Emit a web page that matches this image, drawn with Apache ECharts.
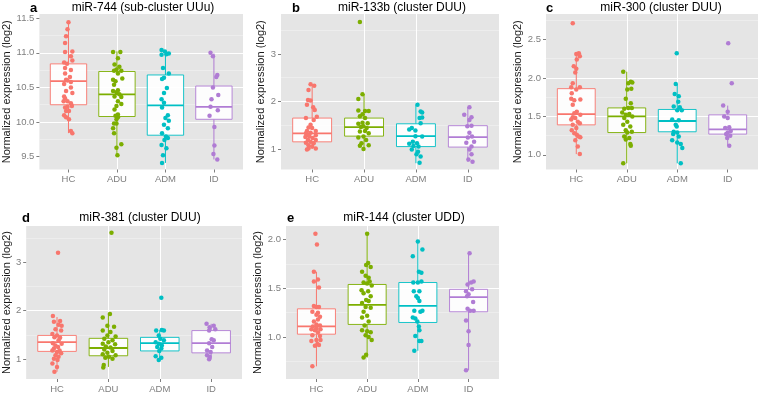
<!DOCTYPE html>
<html>
<head>
<meta charset="utf-8">
<script src="https://cdn.jsdelivr.net/npm/echarts@6/dist/echarts.min.js"></script>
<style>
html,body{margin:0;padding:0;background:#fff}
#chart{width:760px;height:394px}
</style>
</head>
<body>
<div id="chart"></div>
<script>
var groups = ['HC', 'ADU', 'ADM', 'ID'];
var groupColors = ['#F8766D', '#7CAE00', '#00BFC4', '#B07CD4'];
var yName = 'Normalized expression (log2)';

var titles = [
  'miR-744 (sub-cluster UUu)',
  'miR-133b (cluster DUU)',
  'miR-300 (cluster DUU)',
  'miR-381 (cluster DUU)',
  'miR-144 (cluster UDD)'
];
var letters = ['a', 'b', 'c', 'd', 'e'];

// y tick values and labels
var yTicksA = [9.5, 10, 10.5, 11, 11.5];
var yLabelsA = ['9.5', '10.0', '10.5', '11.0', '11.5'];
var yTicksB = [1, 2, 3];
var yLabelsB = ['1', '2', '3'];
var yTicksC = [1, 1.5, 2, 2.5];
var yLabelsC = ['1.0', '1.5', '2.0', '2.5'];
var yTicksD = [1, 2, 3];
var yLabelsD = ['1', '2', '3'];
var yTicksE = [1, 1.5, 2];
var yLabelsE = ['1.0', '1.5', '2.0'];

// box stats per group: [whisker low, Q1, median, Q3, whisker high]
var boxA = [[9.84, 10.25, 10.59, 10.84, 11.45], [9.51, 10.08, 10.40, 10.73, 11.02], [9.41, 9.81, 10.24, 10.68, 11.04], [9.46, 10.04, 10.22, 10.52, 10.99]];
var boxB = [[1.00, 1.15, 1.33, 1.65, 2.36], [1.00, 1.27, 1.46, 1.65, 2.15], [0.70, 1.05, 1.27, 1.53, 1.93], [0.73, 1.04, 1.25, 1.49, 1.88]];
var boxC = [[1.01, 1.39, 1.53, 1.86, 2.32], [0.89, 1.29, 1.50, 1.61, 2.08], [0.89, 1.30, 1.44, 1.59, 1.92], [1.12, 1.27, 1.33, 1.52, 1.64]];
var boxD = [[0.74, 1.16, 1.35, 1.49, 1.87], [0.84, 1.07, 1.23, 1.43, 1.94], [0.97, 1.17, 1.33, 1.45, 1.60], [1.00, 1.13, 1.33, 1.59, 1.73]];
var boxE = [[0.70, 1.03, 1.11, 1.29, 1.67], [0.79, 1.13, 1.33, 1.54, 2.06], [0.86, 1.15, 1.32, 1.56, 1.98], [0.66, 1.26, 1.41, 1.49, 1.86]];

// jittered points per group: [x offset from group, value]
var pointsA = [
  [[0,11.44],[-0.02,11.34],[-0.05,11.24],[-0.07,11.14],[-0.07,11.01],[0.08,11.02],[0.05,10.95],[0.08,10.89],[-0.09,10.86],[-0.03,10.84],[-0.07,10.78],[0.05,10.75],[-0.07,10.70],[0.03,10.65],[-0.05,10.61],[-0.02,10.60],[0.05,10.58],[-0.09,10.55],[0.05,10.50],[-0.05,10.45],[0.08,10.42],[-0.09,10.37],[-0.07,10.34],[-0.10,10.30],[-0.02,10.30],[0.05,10.27],[0.07,10.23],[-0.02,10.22],[-0.07,10.21],[-0.05,10.16],[0.01,10.16],[-0.09,10.10],[-0.05,10.07],[0.01,10.04],[0.05,9.87],[0.08,9.84]],
  [[-0.08,11.01],[0.07,11.01],[0.02,10.92],[-0.05,10.83],[0.05,10.80],[-0.01,10.76],[-0.06,10.74],[0.09,10.74],[0.02,10.70],[-0.08,10.61],[-0.03,10.59],[0.11,10.63],[-0.06,10.54],[0.02,10.46],[-0.08,10.45],[-0.01,10.43],[0.05,10.40],[-0.05,10.37],[0.09,10.36],[0.02,10.30],[0.09,10.26],[-0.01,10.23],[-0.05,10.18],[0.02,10.11],[-0.03,10.09],[0.02,10.07],[-0.01,10.04],[-0.06,9.98],[-0.01,9.98],[-0.08,9.91],[-0.06,9.84],[-0.01,9.63],[0.09,9.68],[0.01,9.52]],
  [[-0.08,11.04],[-0.01,11.02],[0.02,10.98],[0.07,10.99],[-0.08,10.97],[-0.05,10.78],[0.07,10.70],[-0.03,10.64],[-0.07,10.62],[0.03,10.49],[-0.03,10.42],[-0.08,10.33],[-0.03,10.28],[-0.07,10.21],[0.05,10.10],[0,10.06],[0.07,10.02],[-0.03,9.96],[0.05,9.91],[-0.07,9.84],[0.01,9.79],[0.05,9.77],[-0.02,9.74],[-0.08,9.67],[0.02,9.62],[-0.05,9.52],[-0.07,9.41]],
  [[-0.07,11.00],[-0.02,10.95],[0.07,10.68],[0.05,10.65],[-0.02,10.50],[0.09,10.39],[-0.05,10.33],[-0.07,10.22],[0.08,10.17],[-0.09,10.09],[0.01,9.93],[0.01,9.66],[-0.01,9.54],[0.07,9.46]]
];
var pointsB = [
  [[-0.03,2.36],[-0.07,2.24],[0.04,2.33],[-0.08,2.03],[-0.03,2.02],[-0.10,1.93],[0.02,1.88],[0.05,1.82],[0.09,1.68],[-0.12,1.65],[0.03,1.61],[-0.03,1.51],[-0.07,1.45],[0,1.44],[-0.10,1.38],[0.07,1.38],[-0.03,1.34],[-0.12,1.33],[-0.08,1.29],[0.07,1.29],[-0.05,1.26],[-0.13,1.25],[0.01,1.23],[-0.08,1.19],[0.07,1.19],[-0.03,1.15],[-0.12,1.13],[0.03,1.12],[-0.07,1.08],[0,1.05],[-0.07,1.01],[0.07,1.01],[-0.10,0.99]],
  [[-0.08,3.67],[-0.03,2.15],[-0.11,2.05],[0.02,1.80],[0.09,1.80],[-0.11,1.81],[-0.03,1.73],[-0.08,1.69],[0.02,1.65],[-0.03,1.55],[0.07,1.54],[-0.11,1.53],[-0.01,1.48],[-0.06,1.46],[0.05,1.44],[0.02,1.38],[-0.08,1.37],[0.09,1.33],[-0.01,1.26],[-0.11,1.24],[0.04,1.19],[-0.05,1.12],[0.09,1.08],[-0.08,1.07],[-0.01,1.00]],
  [[0.03,1.93],[0.09,1.79],[0.12,1.77],[0.07,1.65],[0.12,1.66],[0.09,1.54],[-0.08,1.44],[-0.13,1.41],[-0.01,1.39],[0.12,1.26],[-0.01,1.27],[-0.06,1.15],[-0.13,1.11],[0.02,1.12],[-0.05,1.06],[0.05,1.05],[-0.08,0.99],[0.04,0.94],[0.01,0.89],[0.09,0.84],[0.07,0.71]],
  [[0.03,1.88],[-0.07,1.72],[0.07,1.67],[0.03,1.61],[-0.01,1.48],[0.07,1.49],[0.03,1.34],[0.08,1.26],[0,1.24],[-0.03,1.13],[0.12,1.15],[0.07,1.05],[0.03,0.99],[0.07,0.89],[0.01,0.78],[0.09,0.73]]
];
var pointsC = [
  [[-0.07,2.71],[0.05,2.32],[0,2.31],[0.07,2.28],[0.01,2.24],[-0.05,2.15],[0,2.12],[-0.02,2.07],[-0.07,1.93],[-0.10,1.88],[0.07,1.88],[0,1.85],[-0.09,1.80],[-0.10,1.73],[0.08,1.72],[-0.04,1.71],[-0.07,1.65],[0.01,1.56],[-0.04,1.54],[0.08,1.52],[-0.07,1.49],[-0.10,1.46],[-0.02,1.48],[0.03,1.43],[0.07,1.41],[-0.07,1.39],[0,1.35],[-0.09,1.32],[-0.04,1.28],[0.01,1.26],[0.08,1.23],[-0.02,1.19],[0.05,1.24],[0.03,1.11],[0.07,1.01]],
  [[-0.07,2.08],[0.08,1.95],[0.03,1.93],[0.11,1.94],[0.01,1.85],[0.09,1.86],[-0.02,1.73],[0.08,1.67],[0.03,1.61],[-0.05,1.60],[0.10,1.61],[-0.09,1.55],[-0.02,1.52],[0.05,1.53],[0.11,1.50],[-0.05,1.48],[0.01,1.43],[-0.07,1.39],[0.07,1.37],[-0.02,1.32],[0.10,1.30],[0.01,1.29],[-0.05,1.24],[0.05,1.22],[-0.02,1.20],[0.07,1.14],[0.08,1.12],[-0.07,0.89]],
  [[-0.01,2.32],[-0.03,1.92],[-0.05,1.79],[0.03,1.76],[0.02,1.69],[-0.07,1.63],[0.05,1.62],[0,1.58],[0.09,1.58],[-0.10,1.46],[0.03,1.45],[-0.03,1.39],[-0.01,1.37],[-0.07,1.30],[0,1.29],[-0.08,1.27],[0.03,1.24],[-0.10,1.19],[0,1.16],[0.07,1.14],[0.10,1.09],[0.07,0.89]],
  [[0.01,2.45],[0.08,1.93],[-0.09,1.64],[0,1.56],[-0.07,1.50],[0,1.48],[0.03,1.36],[-0.05,1.35],[0.06,1.31],[0,1.29],[-0.03,1.27],[0.05,1.25],[-0.01,1.22],[0.03,1.12]]
];
var pointsD = [
  [[0.02,3.20],[-0.08,1.89],[0.06,1.79],[-0.06,1.77],[0.03,1.71],[0.09,1.69],[-0.03,1.62],[0.08,1.59],[-0.09,1.52],[0,1.49],[-0.05,1.45],[0.06,1.44],[0.03,1.39],[-0.08,1.33],[0.09,1.32],[-0.03,1.28],[0.02,1.25],[-0.06,1.22],[0.05,1.18],[-0.09,1.18],[0,1.15],[0.08,1.12],[-0.03,1.08],[0.03,1.05],[-0.06,1.01],[0.01,0.98],[-0.09,0.91],[0,0.84],[-0.05,0.74]],
  [[0.06,3.61],[0.03,1.93],[-0.11,1.86],[-0.02,1.69],[0.11,1.67],[-0.11,1.59],[0.04,1.56],[-0.02,1.49],[0.14,1.47],[-0.08,1.42],[0.08,1.39],[0,1.35],[-0.11,1.32],[0.13,1.31],[-0.05,1.26],[0.04,1.24],[-0.08,1.20],[0.08,1.17],[-0.02,1.13],[-0.11,1.10],[0.14,1.08],[0.01,1.05],[-0.06,1.03],[0.08,1.01],[-0.09,0.88],[-0.10,0.83]],
  [[0.03,2.27],[-0.07,1.59],[0.04,1.60],[0.08,1.59],[-0.02,1.49],[0.01,1.42],[-0.08,1.35],[0.08,1.39],[-0.02,1.32],[0.04,1.28],[-0.05,1.25],[0.03,1.22],[-0.01,1.17],[-0.08,1.06],[0.03,1.03],[-0.02,0.98]],
  [[-0.09,1.73],[0.05,1.69],[-0.03,1.66],[-0.04,1.59],[0.08,1.62],[0.01,1.41],[0.05,1.39],[-0.04,1.33],[0.02,1.25],[-0.08,1.18],[-0.01,1.15],[-0.08,1.08],[-0.03,1.05],[-0.04,1.00]]
];
var pointsE = [
  [[-0.02,2.06],[0.01,1.95],[-0.05,1.67],[-0.05,1.57],[0.03,1.59],[0.05,1.51],[-0.05,1.32],[0,1.31],[0.05,1.31],[-0.08,1.26],[0.03,1.25],[0,1.23],[0.07,1.21],[0.03,1.18],[-0.05,1.16],[0,1.13],[0.07,1.12],[-0.07,1.11],[0,1.09],[0.08,1.08],[-0.10,1.08],[-0.03,1.07],[0.03,1.05],[-0.08,1.02],[0.07,1.01],[0,0.97],[0.08,0.97],[-0.10,0.96],[0.02,0.93],[-0.03,0.91],[0.05,0.92],[-0.08,0.70]],
  [[0,2.06],[0.02,1.76],[-0.02,1.74],[0.07,1.72],[-0.10,1.67],[-0.03,1.63],[0.03,1.61],[-0.07,1.56],[0,1.55],[0.05,1.57],[0.09,1.53],[-0.11,1.48],[0.02,1.47],[-0.07,1.45],[0.07,1.42],[-0.02,1.38],[0.03,1.37],[-0.10,1.35],[-0.03,1.31],[0.07,1.30],[-0.07,1.26],[0,1.22],[-0.10,1.20],[0.03,1.16],[-0.05,1.12],[-0.10,1.07],[0,1.06],[0.07,1.05],[-0.03,1.02],[0.03,1.00],[0.09,0.97],[-0.02,0.82],[-0.07,0.79]],
  [[0,1.98],[0.09,1.90],[-0.10,1.83],[0.02,1.67],[0.07,1.66],[-0.09,1.56],[0,1.56],[0.07,1.57],[-0.08,1.47],[0.03,1.47],[-0.03,1.42],[0,1.40],[0.03,1.37],[-0.07,1.27],[0.05,1.26],[0.09,1.27],[-0.10,1.20],[-0.05,1.19],[-0.01,1.16],[0.02,1.11],[0.03,1.07],[-0.05,1.01],[0.03,0.96],[0.07,0.96],[-0.07,0.86]],
  [[0.02,1.86],[0.10,1.57],[0.05,1.56],[-0.02,1.54],[-0.05,1.47],[0.07,1.49],[0,1.44],[-0.03,1.42],[0.09,1.36],[-0.02,1.29],[0.03,1.27],[0.10,1.27],[-0.05,1.17],[0,1.06],[0,0.92],[-0.05,0.66]]
];

var panels = [
  {grid: {left: 33, top: 14, width: 210, height: 155.5}, yMin: 9.315, yMax: 11.56, step: 0.5, ticks: yTicksA, labels: yLabelsA, box: boxA, points: pointsA, nameGap: 21, titleX: 143, titleY: 8, letterX: 30, letterY: 8},
  {grid: {left: 281, top: 14, width: 218, height: 155.5}, yMin: 0.568, yMax: 3.84, step: 1, ticks: yTicksB, labels: yLabelsB, box: boxB, points: pointsB, nameGap: 11, titleX: 402, titleY: 8, letterX: 292, letterY: 8},
  {grid: {left: 546, top: 14, width: 212, height: 155.5}, yMin: 0.81, yMax: 2.83, step: 0.5, ticks: yTicksC, labels: yLabelsC, box: boxC, points: pointsC, nameGap: 18, titleX: 661, titleY: 8, letterX: 546, letterY: 8},
  {grid: {left: 21, top: 226, width: 221, height: 155}, yMin: 0.59, yMax: 3.75, step: 1, ticks: yTicksD, labels: yLabelsD, box: boxD, points: pointsD, nameGap: 9, titleX: 140, titleY: 218, letterX: 22, letterY: 218},
  {grid: {left: 286, top: 226, width: 213, height: 155}, yMin: 0.57, yMax: 2.14, step: 0.5, ticks: yTicksE, labels: yLabelsE, box: boxE, points: pointsE, nameGap: 16, titleX: 404, titleY: 218, letterX: 287, letterY: 218}
];

function renderBox(params, api) {
  var x = api.value(0);
  var lo = api.coord([x, api.value(1)]);
  var q1 = api.coord([x, api.value(2)]);
  var med = api.coord([x, api.value(3)]);
  var q3 = api.coord([x, api.value(4)]);
  var hi = api.coord([x, api.value(5)]);
  var half = api.size([0.75, 0])[0] / 2;
  var color = groupColors[params.dataIndex];
  return {
    type: 'group',
    children: [
      {type: 'line', shape: {x1: lo[0], y1: lo[1], x2: q1[0], y2: q1[1]}, style: {stroke: color, lineWidth: 1}},
      {type: 'line', shape: {x1: q3[0], y1: q3[1], x2: hi[0], y2: hi[1]}, style: {stroke: color, lineWidth: 1}},
      {type: 'rect', shape: {x: q1[0] - half, y: q3[1], width: half * 2, height: q1[1] - q3[1]}, style: {fill: '#fff', stroke: color, lineWidth: 1, opacity: 0.9}},
      {type: 'line', shape: {x1: med[0] - half, y1: med[1], x2: med[0] + half, y2: med[1]}, style: {stroke: color, lineWidth: 1.8}}
    ]
  };
}

var font = '"Liberation Sans", Arial, sans-serif';
var option = {
  animation: false,
  backgroundColor: '#ffffff',
  grid: [], xAxis: [], yAxis: [], series: [], graphic: []
};

panels.forEach(function (p, k) {
  option.grid.push({
    left: p.grid.left, top: p.grid.top, width: p.grid.width, height: p.grid.height,
    show: true, backgroundColor: '#E5E5E5', borderWidth: 0
  });
  option.xAxis.push({
    type: 'value', gridIndex: k, min: 0.4, max: 4.6, minInterval: 1, maxInterval: 1,
    axisLine: {show: false},
    axisTick: {show: true, length: 3, customValues: [1, 2, 3, 4], lineStyle: {color: '#7F7F7F'}},
    axisLabel: {
      customValues: [1, 2, 3, 4], color: '#7F7F7F', fontSize: 9.5, fontFamily: font, margin: 5,
      formatter: function (v) { return groups[Math.round(v) - 1] || ''; }
    },
    splitLine: {show: true, showMinLine: false, showMaxLine: false, lineStyle: {color: '#ffffff', width: 1}}
  });
  option.yAxis.push({
    type: 'value', gridIndex: k, min: p.yMin, max: p.yMax, minInterval: p.step, maxInterval: p.step,
    name: yName, nameLocation: 'middle', nameGap: p.nameGap,
    nameTextStyle: {color: '#1a1a1a', fontSize: 11, fontFamily: font},
    axisLine: {show: false},
    axisTick: {show: true, length: 3, customValues: p.ticks, lineStyle: {color: '#7F7F7F'}},
    axisLabel: {
      customValues: p.ticks, color: '#7F7F7F', fontSize: 9.5, fontFamily: font, margin: 5,
      formatter: function (v) {
        for (var i = 0; i < p.ticks.length; i++) {
          if (Math.abs(p.ticks[i] - v) < 1e-6) return p.labels[i];
        }
        return '';
      }
    },
    splitLine: {show: true, showMinLine: false, showMaxLine: false, lineStyle: {color: '#ffffff', width: 1}},
    minorTick: {show: false, splitNumber: 2},
    minorSplitLine: {show: true, lineStyle: {color: '#F2F2F2', width: 0.6}}
  });
  option.series.push({
    type: 'custom', xAxisIndex: k, yAxisIndex: k, silent: true, z: 2,
    data: p.box.map(function (b, i) { return [i + 1].concat(b); }),
    renderItem: renderBox
  });
  groups.forEach(function (g, gi) {
    option.series.push({
      type: 'scatter', name: g, xAxisIndex: k, yAxisIndex: k, silent: true, z: 3,
      symbolSize: 4.5,
      itemStyle: {color: groupColors[gi], opacity: 1},
      data: p.points[gi].map(function (pt) { return [gi + 1 + pt[0], pt[1]]; })
    });
  });
  option.graphic.push({
    type: 'text', x: p.titleX, y: p.titleY,
    style: {text: titles[k], fill: '#000', font: '12px ' + font, textAlign: 'center', textVerticalAlign: 'middle'}
  });
  option.graphic.push({
    type: 'text', x: p.letterX, y: p.letterY,
    style: {text: letters[k], fill: '#000', font: 'bold 13px ' + font, textAlign: 'left', textVerticalAlign: 'middle'}
  });
});

var chart = echarts.init(document.getElementById('chart'), null, {renderer: 'canvas'});
chart.setOption(option);
</script>
</body>
</html>
